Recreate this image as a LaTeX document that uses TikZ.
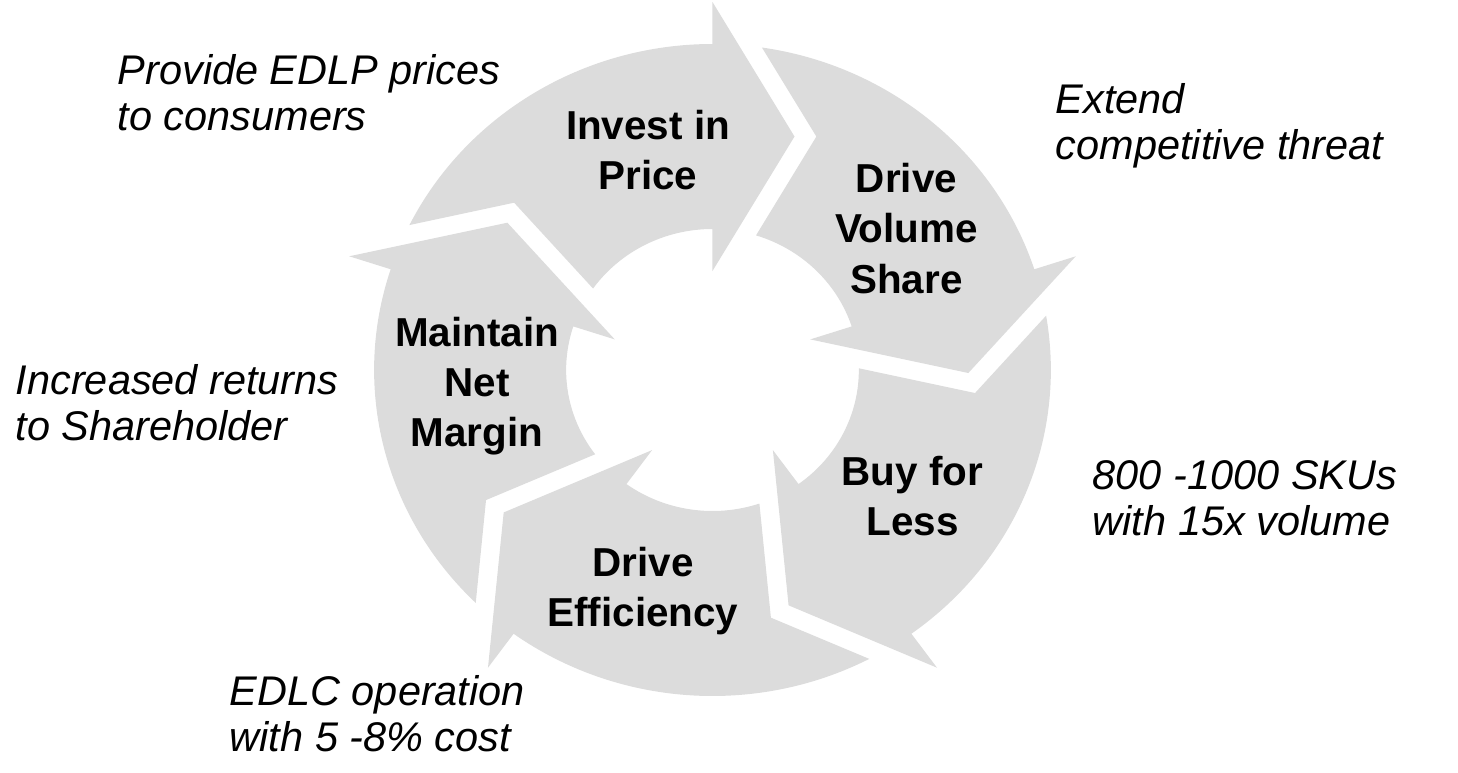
\documentclass[tikz,border=0pt]{standalone}
\usepackage{fontspec}
\setmainfont{Liberation Sans}
\definecolor{cyclegray}{RGB}{220,220,220}
\begin{document}
\begin{tikzpicture}[x=0.02cm,y=0.02cm,
	stage/.style={font=\bfseries\fontsize{23}{28.5}\selectfont,align=center,inner sep=0pt},
	note/.style={font=\itshape\fontsize{23.6}{26.5}\selectfont,align=left,anchor=north west,inner sep=0pt}]
	\useasboundingbox (-712.5,-402) rectangle (745.5,370);
	\begin{scope}[xscale=1.038]
	\foreach \i in {0,...,4} {
		\fill [cyclegray,rotate=-72*\i] (153.6:326) arc [start angle=153.6,end angle=90,radius=326]
		  -- (90:368) -- (71.3:246.5) -- (90:99) -- (90:141)
		  arc [start angle=90,end angle=144.7,radius=141] -- (138.8:254) -- cycle;
	}
	\end{scope}
	\node [stage] (invest) at (-64.5,219.5) {Invest in\\Price};
	\node [stage] (volume) at (194,141.5) {Drive\\Volume\\Share};
	\node [stage] (buy) at (200,-126.5) {Buy for\\Less};
	\node [stage] (efficiency) at (-69.5,-221.5) {Drive\\Efficiency};
	\node [stage] (margin) at (-235.5,-16) {Maintain\\Net\\Margin};
	\node [note] (consumers) at (-595,316) {Provide EDLP prices\\to consumers};
	\node [note] (threat) at (343,287) {Extend\\competitive threat};
	\node [note] (returns) at (-697,6) {Increased returns\\to Shareholder};
	\node [note] (skus) at (380,-90) {800 -1000 SKUs\\with 15x volume};
	\node [note] (cost) at (-483,-305) {EDLC operation\\with 5 -8\% cost};
\end{tikzpicture}
\end{document}
